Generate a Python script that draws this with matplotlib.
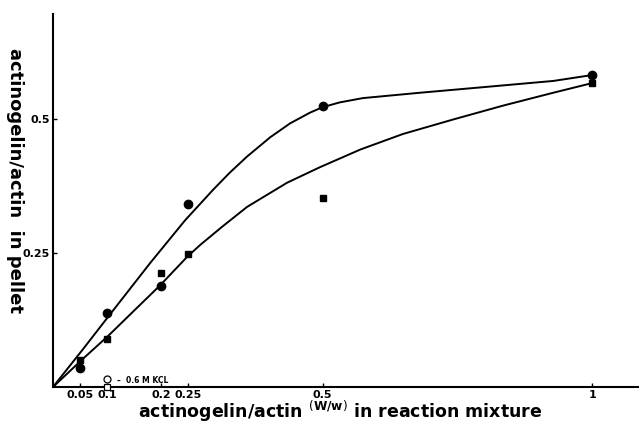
import matplotlib.pyplot as plt

# measured points (w/w in reaction mixture -> ratio in pellet)
x_pts = [0.05, 0.1, 0.2, 0.25, 0.5, 1.0]
circ_y = [0.035, 0.138, 0.188, 0.341, 0.524, 0.582]
sq_y = [0.050, 0.090, 0.213, 0.248, 0.353, 0.567]

# hand drawn curves
upper_x = [0, 0.056, 0.1, 0.18, 0.245, 0.297, 0.328, 0.36, 0.403, 0.44, 0.477, 0.5,
           0.532, 0.575, 0.681, 0.805, 0.928, 1.0]
upper_y = [0, 0.071, 0.128, 0.231, 0.311, 0.368, 0.4, 0.43, 0.466, 0.492, 0.512, 0.522,
           0.531, 0.539, 0.549, 0.56, 0.571, 0.582]
lower_x = [0, 0.056, 0.102, 0.199, 0.249, 0.273, 0.315, 0.36, 0.434, 0.495, 0.57,
           0.649, 0.742, 0.835, 0.928, 1.0]
lower_y = [0, 0.053, 0.095, 0.19, 0.243, 0.265, 0.3, 0.336, 0.381, 0.41, 0.443,
           0.472, 0.499, 0.525, 0.549, 0.567]

# 0.6 M KCl controls
kcl_x = [0.1]
kcl_circ = [0.015]
kcl_sq = [0.0]

xticks = [0.05, 0.1, 0.2, 0.25, 0.5, 1.0]
xticklabels = ['0.05', '0.1', '0.2', '0.25', '0.5', '1']
yticks = [0.25, 0.5]
yticklabels = ['0.25', '0.5']

fig = plt.figure(figsize=(6.41, 4.29), dpi=100)
ax = fig.add_axes([0.0827, 0.098, 0.9126, 0.8695])

ax.plot(upper_x, upper_y, color='black', lw=1.4, solid_joinstyle='round')
ax.plot(lower_x, lower_y, color='black', lw=1.4, solid_joinstyle='round')
ax.plot(x_pts, circ_y, 'o', color='black', ms=6)
ax.plot(x_pts, sq_y, 's', color='black', ms=5)
ax.plot(kcl_x, kcl_circ, 'o', mfc='white', mec='black', ms=5, mew=0.9, clip_on=False, zorder=5)
ax.plot(kcl_x, kcl_sq, 's', mfc='white', mec='black', ms=5, mew=0.9, clip_on=False, zorder=5)
ax.annotate('–  0.6 M KCL', (kcl_x[0], kcl_circ[0]), xytext=(7, -1),
            textcoords='offset points', fontsize=5.5, fontweight='bold', va='center')

ax.set_xlim(0, 1.085)
ax.set_ylim(0, 0.696)
for s in ['top', 'right']:
    ax.spines[s].set_visible(False)
for s in ['left', 'bottom']:
    ax.spines[s].set_linewidth(1.5)

ax.set_xticks(xticks)
ax.set_xticklabels(xticklabels)
ax.set_yticks(yticks)
ax.set_yticklabels(yticklabels)
ax.tick_params(direction='in', length=3, width=1, pad=2)
for lab in ax.get_xticklabels() + ax.get_yticklabels():
    lab.set_fontweight('bold')
    lab.set_fontsize(8)
    lab.set_family(['Liberation Sans Narrow', 'DejaVu Sans'])

fig.text(0.53, 0.042, r'actinogelin/actin $^{(\mathbf{W/w})}$ in reaction mixture',
         ha='center', va='center', fontsize=12.5, fontweight='bold')
fig.text(0.024, 0.58, 'actinogelin/actin  in pellet', rotation=270,
         ha='center', va='center', fontsize=13, fontweight='bold')

fig.savefig('out.png', dpi=100)
